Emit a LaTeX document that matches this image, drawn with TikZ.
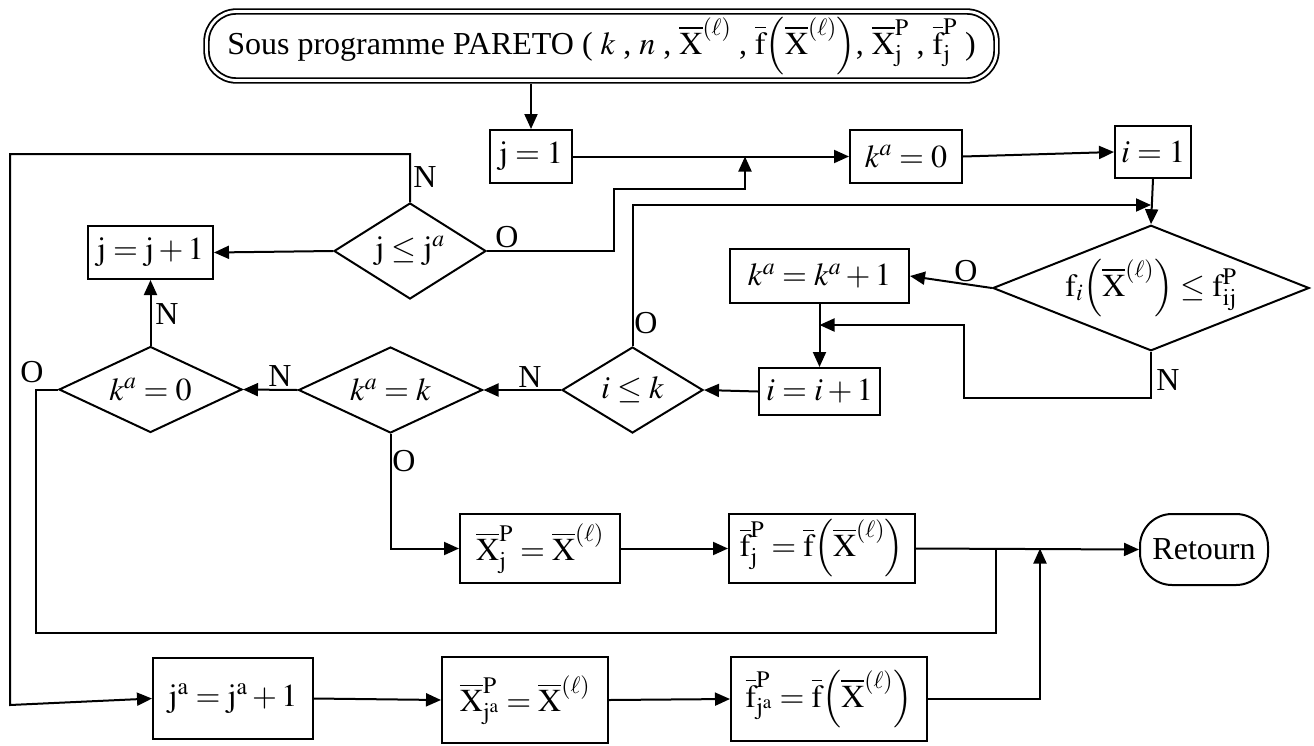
\documentclass[tikz,border=0pt]{standalone}
\usepackage{mathptmx}
\usepackage[no-math]{fontspec}
\setmainfont{Liberation Serif}
\usetikzlibrary{shapes.geometric,arrows.meta,calc}
\newcommand{\Xb}{\overline{\mathrm{X}}}
\newcommand{\fb}{\overline{\mathrm{f}}}
\newcommand{\ellp}{{(\ell)}}
\newcommand{\fX}{\fb\Bigl(\Xb^{\ellp}\Bigr)}
\tikzset{
  base/.style={font=\fontsize{32}{38}\selectfont, inner sep=0pt},
  box/.style={base, draw, line width=2pt, rectangle},
  dia/.style={base, draw, line width=2pt, diamond},
  lab/.style={base},
  arr/.style={line width=2pt, -{Triangle[length=15pt,width=13pt]}},
  ln/.style={line width=2pt},
}
\begin{document}
\begin{tikzpicture}[x=1pt,y=-1pt]
\useasboundingbox (0,0) rectangle (1314,745);
% title
\node[base, draw, line width=1.8pt, double, double distance=2.8pt, rounded corners=30pt,
      minimum width=790pt, minimum height=69pt, outer sep=3.5pt] (title) at (601.5,46)
  {Sous programme PARETO ( $k$ , $n$ , $\Xb^{\ellp}$ , $\fX$, $\Xb_{\mathrm{j}}^{\mathrm{P}}$ , $\fb_{\mathrm{j}}^{\mathrm{P}}$ )};
% boxes
\node[box, minimum width=82pt, minimum height=53pt] (j1) at (531,156.5) {$\mathrm{j}=1$};
\node[box, minimum width=112pt, minimum height=53pt] (ka0) at (906,156.5) {$k^{a}=0$};
\node[box, minimum width=76pt, minimum height=52pt] (i1) at (1153,152) {$i=1$};
\node[box, minimum width=179pt, minimum height=54pt] (kaplus) at (819.5,276) {$k^{a}=k^{a}+1$};
\node[box, minimum width=121pt, minimum height=47pt] (iplus) at (819.5,391.5) {$i=i+1$};
\node[box, minimum width=125pt, minimum height=53pt] (jp) at (150.5,252.5) {$\mathrm{j}=\mathrm{j}+1$};
\node[box, minimum width=160pt, minimum height=69pt] (xj) at (540,548.5) {$\Xb_{\mathrm{j}}^{\mathrm{P}}=\Xb^{\ellp}$};
\node[box, minimum width=186pt, minimum height=69pt] (fj) at (822,548.5) {$\fb_{\mathrm{j}}^{\mathrm{P}}=\fX$};
\node[box, rounded corners=32pt, minimum width=128pt, minimum height=71pt] (ret) at (1204,549.5) {Retourn};
\node[box, minimum width=160pt, minimum height=81pt] (ja) at (233,698.5) {$\mathrm{j}^{\mathrm{a}}=\mathrm{j}^{\mathrm{a}}+1$};
\node[box, minimum width=166pt, minimum height=86pt] (xja) at (525,700) {$\Xb_{\mathrm{j}^{\mathrm{a}}}^{\mathrm{P}}=\Xb^{\ellp}$};
\node[box, minimum width=196pt, minimum height=84pt] (fja) at (829,699) {$\fb_{\mathrm{j}^{\mathrm{a}}}^{\mathrm{P}}=\fX$};
% diamonds
\node[dia, shape aspect=2.52, minimum width=312pt, minimum height=124pt] (fi) at (1151,288)
  {$\mathrm{f}_{i}\Bigl(\Xb^{\ellp}\Bigr)\le\mathrm{f}_{\mathrm{ij}}^{\mathrm{P}}$};
\node[dia, shape aspect=1.64, minimum width=141pt, minimum height=86pt] (ilek) at (632.5,390) {$i\le k$};
\node[dia, shape aspect=2.13, minimum width=184pt, minimum height=86pt] (kak) at (390.5,390) {$k^{a}=k$};
\node[dia, shape aspect=2.13, minimum width=183pt, minimum height=86pt] (kz) at (150.5,389.5) {$k^{a}=0$};
\node[dia, shape aspect=1.58, minimum width=152pt, minimum height=96pt] (jle) at (410,251) {$\mathrm{j}\le\mathrm{j}^{a}$};
% bend coordinates
\coordinate (n2) at (964,398);
\coordinate (m1) at (819.5,325);
\coordinate (ifj) at (1151,205);
\coordinate (ko1) at (36,633);
\coordinate (jn1) at (996,548.5);
\coordinate (lp1) at (10,154);
\coordinate (lp2) at (10,705);
\coordinate (oj1) at (614,189);
\coordinate (oj2) at (745,156.5);
\coordinate (jn2) at (1040,548.5);
% connectors
\draw[arr] (title.south -| j1.north) -- (j1.north);
\draw[arr] (j1.east) -- (ka0.west);
\draw[arr] (ka0.east) -- (i1.west);
\draw[arr] (i1.south) -- (fi.north);
\draw[arr] (fi.west) -- (kaplus.east);
\draw[arr] (fi.south) |- (n2) |- (m1);
\draw[arr] (kaplus.south) -- (iplus.north);
\draw[arr] (iplus.west) -- (ilek.east);
\draw[arr] (ilek.north) |- (ifj);
\draw[arr] (ilek.west) -- (kak.east);
\draw[arr] (kak.west) -- (kz.east);
\draw[arr] (kz.north) -- (jp.south);
\draw[arr] (kak.south) |- (xj.west);
\draw[arr] (xj.east) -- (fj.west);
\draw[arr] (fj.east) -- (ret.west);
\draw[ln] (kz.west) -| (ko1) -| (jn1);
\draw[arr] (jle.north) |- (lp1) -- (lp2) -- (ja.west);
\draw[arr] (jle.west) -- (jp.east);
\draw[arr] (jle.east) -| (oj1) -| (oj2);
\draw[arr] (ja.east) -- (xja.west);
\draw[arr] (xja.east) -- (fja.west);
\draw[arr] (fja.east) -| (jn2);
% labels
\node[lab] (lN1) at (425,177) {N};
\node[lab] (lO1) at (507,237) {O};
\node[lab] (lN2) at (167,314) {N};
\node[lab] (lO2) at (32,372) {O};
\node[lab] (lN3) at (280,376) {N};
\node[lab] (lN4) at (530,377) {N};
\node[lab] (lO3) at (646,323) {O};
\node[lab] (lO4) at (966,271) {O};
\node[lab] (lN5) at (1168,380) {N};
\node[lab] (lO5) at (404,461) {O};
\end{tikzpicture}
\end{document}
